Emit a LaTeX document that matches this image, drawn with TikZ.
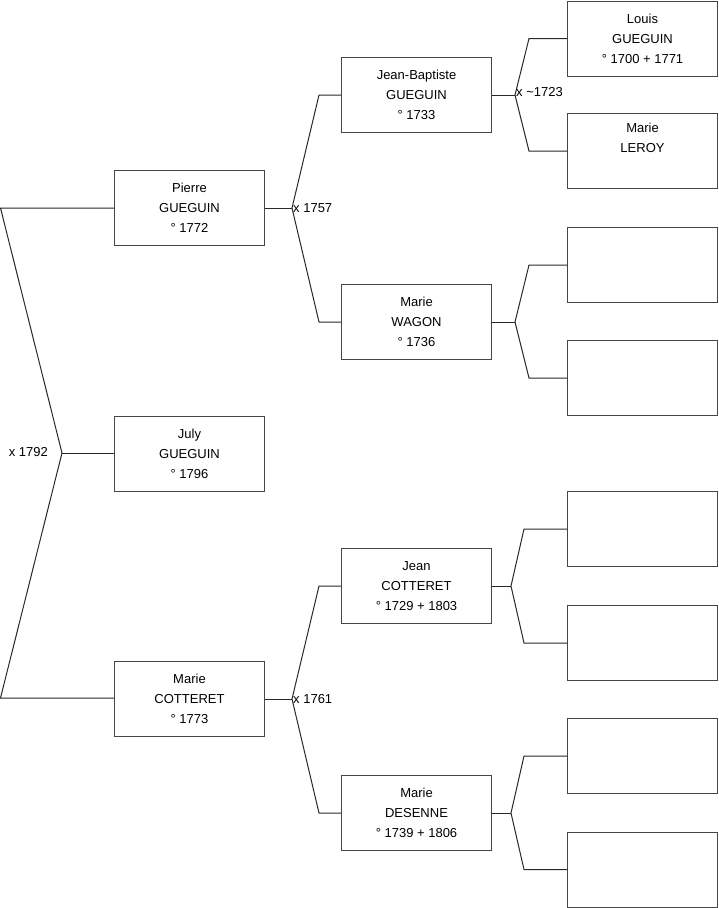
\documentclass[tikz,border=0pt]{standalone}
\usepackage{fontspec}
\setmainfont{Liberation Sans}
\usetikzlibrary{positioning,calc}
\definecolor{boxGray}{RGB}{70,70,70}
\definecolor{lineGray}{RGB}{40,40,40}

\begin{document}
\begin{tikzpicture}[x=1pt, y=-1pt,
    every node/.style={font=\fontsize{13}{20}\selectfont},
    indiv/.style={draw=boxGray, line width=1pt, rectangle, minimum width=150pt, minimum height=75pt, inner sep=0pt, align=center},
    link/.style={draw=lineGray, line width=1pt},
    union/.style={inner sep=1pt}]
  \useasboundingbox (0,0) rectangle (719,908);
  % Generation 1
  \node[indiv] (pierre) at (189.5,208) {Pierre\\GUEGUIN\\° 1772};
  \node[indiv] (july) at (189.5,454) {July\\GUEGUIN\\° 1796};
  \node[indiv] (marieC) at (189.5,699) {Marie\\COTTERET\\° 1773};
  % Generation 2
  \node[indiv] (jb) at (416.5,95) {Jean-Baptiste\\GUEGUIN\\° 1733};
  \node[indiv] (wagon) at (416.5,322) {Marie\\WAGON\\° 1736};
  \node[indiv] (jean) at (416.5,586) {Jean\\COTTERET\\° 1729 + 1803};
  \node[indiv] (desenne) at (416.5,813) {Marie\\DESENNE\\° 1739 + 1806};
  % Generation 3
  \node[indiv] (louis) at (642.5,38.5) {Louis\\GUEGUIN\\° 1700 + 1771};
  \node[indiv] (leroy) at (642.5,151) {Marie\\LEROY\\\strut};
  \node[indiv] (g3c) at (642.5,265) {};
  \node[indiv] (g3d) at (642.5,378) {};
  \node[indiv] (g3e) at (642.5,529) {};
  \node[indiv] (g3f) at (642.5,643) {};
  \node[indiv] (g3g) at (642.5,756) {};
  \node[indiv] (g3h) at (642.5,869.5) {};
  % Parents of July
  \coordinate (m1) at (62,453);
  \coordinate (p1) at (0.5,208);
  \coordinate (p2) at (0.5,698);
  \draw[link] (pierre.west |- p1) -- (p1) -- (m1) -- (p2) -- (marieC.west |- p2);
  \draw[link] (m1) -- (july.west |- m1);
  \node[union, anchor=east] (u1) at ($(m1)+(-13,-1)$) {x 1792};
  % Parents of Pierre
  \coordinate (m2) at (292,208);
  \draw[link] (pierre.east) -- (m2);
  \draw[link] (jb.west) -- (319,95) -- (m2) -- (319,322) -- (wagon.west);
  \node[union, anchor=west] (u2) at (m2) {x 1757};
  % Parents of Marie Cotteret
  \coordinate (m3) at (292,699);
  \draw[link] (marieC.east) -- (m3);
  \draw[link] (jean.west) -- (319,586) -- (m3) -- (319,813) -- (desenne.west);
  \node[union, anchor=west] (u3) at (m3) {x 1761};
  % Parents of Jean-Baptiste
  \coordinate (m4) at (515,95);
  \draw[link] (jb.east) -- (m4);
  \draw[link] (louis.west) -- (529,38.5) -- (m4) -- (529,151) -- (leroy.west);
  \node[union, anchor=west] (u4) at ($(m4)+(0,-3)$) {x \textasciitilde1723};
  % Parents of Marie Wagon
  \coordinate (m5) at (515,322);
  \draw[link] (wagon.east) -- (m5);
  \draw[link] (g3c.west) -- (529,265) -- (m5) -- (529,378) -- (g3d.west);
  % Parents of Jean Cotteret
  \coordinate (m6) at (511,586);
  \draw[link] (jean.east) -- (m6);
  \draw[link] (g3e.west) -- (524,529) -- (m6) -- (524,643) -- (g3f.west);
  % Parents of Marie Desenne
  \coordinate (m7) at (511,813);
  \draw[link] (desenne.east) -- (m7);
  \draw[link] (g3g.west) -- (524,756) -- (m7) -- (524,869.5) -- (g3h.west);
\end{tikzpicture}
\end{document}
